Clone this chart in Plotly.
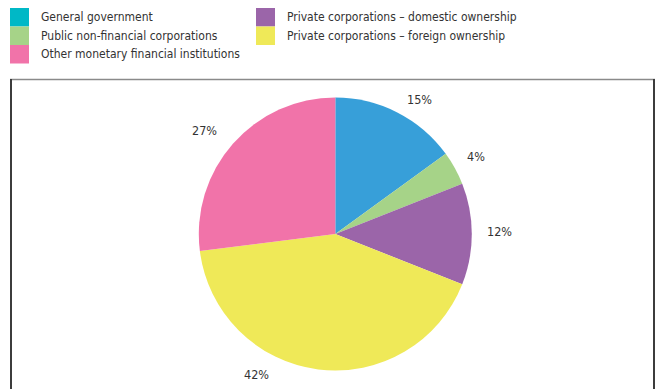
import math
import plotly.graph_objects as go

# ---- data ----
categories = [
    "General government",
    "Public non-financial corporations",
    "Private corporations – domestic ownership",
    "Private corporations – foreign ownership",
    "Other monetary financial institutions",
]
shares = [15, 4, 12, 42, 27]

# ---- styles ----
slice_colors = ["#379FD9", "#A6D388", "#9B65A9", "#EFE958", "#F173A9"]
legend_colors = {
    "General government": "#00B8C6",
    "Public non-financial corporations": "#A6D388",
    "Other monetary financial institutions": "#F173A9",
    "Private corporations – domestic ownership": "#9B65A9",
    "Private corporations – foreign ownership": "#EFE958",
}
legend_layout = [  # (category, column x px, row)
    ("General government", 10, 0),
    ("Public non-financial corporations", 10, 1),
    ("Other monetary financial institutions", 10, 2),
    ("Private corporations – domestic ownership", 256, 0),
    ("Private corporations – foreign ownership", 256, 1),
]
label_angle_shift = [5, 0, -1, 22, -3]  # degrees, per slice label
label_radius_add = [22, 24, 28, 25, 30]

W, H = 662, 389
FONT = "DejaVu Sans Condensed, DejaVu Sans"
TXT = "#333333"


def px(x):
    return x / W


def py(y):
    return 1 - y / H


cx, cy, R = 335.3, 234.0, 136.5

fig = go.Figure()
fig.add_trace(go.Pie(
    labels=categories,
    values=shares,
    marker=dict(colors=slice_colors, line=dict(width=0)),
    sort=False,
    direction="clockwise",
    rotation=0,
    textinfo="none",
    hoverinfo="label+percent",
    showlegend=False,
    domain=dict(x=[px(cx - R), px(cx + R)], y=[py(cy + R), py(cy - R)]),
))

annotations = []
shapes = []

# slice labels
total = sum(shares)
cum = 0
for i, v in enumerate(shares):
    mid = (cum + v / 2) / total * 360 + label_angle_shift[i]
    cum += v
    rr = R + label_radius_add[i]
    lx = cx + rr * math.sin(math.radians(mid))
    ly = cy - rr * math.cos(math.radians(mid))
    annotations.append(dict(
        x=px(lx), y=py(ly), xref="paper", yref="paper",
        text=f"{round(v / total * 100)}%", showarrow=False,
        xanchor="center", yanchor="middle",
        font=dict(family=FONT, size=12.5, color=TXT),
    ))

# custom legend
row_h = 18.5
for name, x0, row in legend_layout:
    y0 = 8 + row * row_h
    shapes.append(dict(
        type="rect", xref="paper", yref="paper",
        x0=px(x0), x1=px(x0 + 19), y0=py(y0 + row_h), y1=py(y0),
        fillcolor=legend_colors[name], line=dict(width=0), layer="above",
    ))
    annotations.append(dict(
        x=px(x0 + 29), y=py(y0 + row_h / 2), xref="paper", yref="paper",
        text=name, showarrow=False, xanchor="left", yanchor="middle",
        font=dict(family=FONT, size=12, color=TXT),
    ))

# frame around the chart area
shapes.append(dict(type="line", xref="paper", yref="paper",
                   x0=px(10), x1=px(655), y0=py(79.5), y1=py(79.5),
                   line=dict(color="#8a8a8a", width=1.5)))
shapes.append(dict(type="line", xref="paper", yref="paper",
                   x0=px(11), x1=px(11), y0=py(79), y1=py(400),
                   line=dict(color="#3c3c3c", width=2)))
shapes.append(dict(type="line", xref="paper", yref="paper",
                   x0=px(654), x1=px(654), y0=py(79), y1=py(400),
                   line=dict(color="#3c3c3c", width=2)))

fig.update_layout(
    width=W, height=H,
    margin=dict(l=0, r=0, t=0, b=0),
    paper_bgcolor="white", plot_bgcolor="white",
    showlegend=False,
    annotations=annotations,
    shapes=shapes,
)

fig.write_html("out.html")
